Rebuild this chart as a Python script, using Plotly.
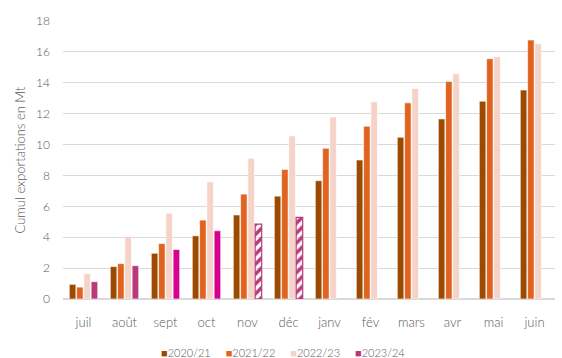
import plotly.graph_objects as go

# Months of the marketing year (July to June)
mois = ["juil", "août", "sept", "oct", "nov", "déc",
        "janv", "fév", "mars", "avr", "mai", "juin"]

# Cumulative exports, in Mt
c2020_21 = [0.95, 2.1, 2.96, 4.09, 5.44, 6.66, 7.66, 9.0, 10.47, 11.66, 12.81, 13.53]
c2021_22 = [0.77, 2.29, 3.59, 5.11, 6.79, 8.39, 9.76, 11.19, 12.7, 14.08, 15.56, 16.77]
c2022_23 = [1.64, 4.05, 5.55, 7.59, 9.11, 10.56, 11.79, 12.77, 13.63, 14.58, 15.69, 16.53]
c2023_24 = [1.12, 2.16, 3.2, 4.42, 4.85, 5.28]

saisons = ["2020/21", "2021/22", "2022/23", "2023/24"]

BRUN = "#9C4A00"
ORANGE = "#E06420"
ROSE = "#F5D3C8"
MAUVE = "#B83A7A"
MAGENTA = "#D6008E"

GRIS_TXT = "#595959"
FONT = "Lato"

fig = go.Figure()

for nom, vals, col in [(saisons[0], c2020_21, BRUN),
                       (saisons[1], c2021_22, ORANGE),
                       (saisons[2], c2022_23, ROSE)]:
    fig.add_trace(go.Bar(
        x=mois, y=vals, name=nom, showlegend=False,
        marker=dict(color=col, line=dict(color="white", width=0.6)),
    ))

# Current season: estimated months are hatched
couleurs_24 = [MAUVE, MAUVE, MAGENTA, MAGENTA, MAUVE, MAUVE]
motifs_24 = ["", "", "", "", "/", "/"]
bords_24 = ["white", "white", "white", "white", MAUVE, MAUVE]
bord_w_24 = [0.6, 0.6, 0.6, 0.6, 1.2, 1.2]
fig.add_trace(go.Bar(
    x=mois[:len(c2023_24)], y=c2023_24, name=saisons[3], showlegend=False,
    marker=dict(
        color=couleurs_24,
        line=dict(color=bords_24, width=bord_w_24),
        pattern=dict(shape=motifs_24, bgcolor="white",
                     size=7, solidity=0.5, fillmode="replace"),
    ),
))

# Compact legend below the axis
couleurs_leg = [BRUN, ORANGE, ROSE, MAUVE]
legende = "     ".join(
    f"<span style='color:{c}'>■</span>{s}" for c, s in zip(couleurs_leg, saisons)
)
fig.add_annotation(text=legende, xref="paper", yref="paper",
                   x=(283 - 63) / (555 - 63), y=-(352 - 298.6) / (298.6 - 21),
                   xanchor="center", yanchor="middle",
                   showarrow=False, font=dict(size=11, color=GRIS_TXT))

fig.update_layout(
    width=562, height=358,
    margin=dict(l=63, r=7, t=21, b=59),
    paper_bgcolor="white", plot_bgcolor="white",
    barmode="group", bargap=0.29, bargroupgap=0.1,
    font=dict(family=FONT, color=GRIS_TXT, size=12, weight=300),
    xaxis=dict(categoryorder="array", categoryarray=mois,
               tickfont=dict(size=13, color=GRIS_TXT, weight=300), ticks="",
               ticklabelstandoff=14,
               showline=False, showgrid=False),
    yaxis=dict(range=[0, 18], dtick=2,
               tickfont=dict(size=12, color=GRIS_TXT, weight=300),
               gridcolor="#D9D9D9", gridwidth=1, zeroline=True,
               zerolinecolor="#D9D9D9", zerolinewidth=1.5,
               ticks="", ticklabelstandoff=12,
               title=dict(text="Cumul exportations en Mt",
                          font=dict(size=13, color=GRIS_TXT, weight=300),
                          standoff=7)),
)

fig.write_html("out.html")
